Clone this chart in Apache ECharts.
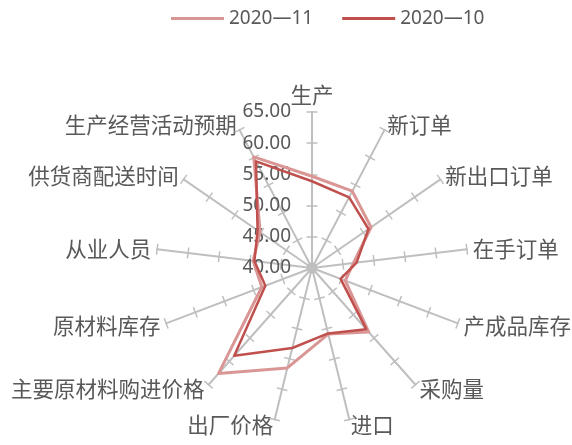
<!DOCTYPE html>
<html><head><meta charset="utf-8">
<script src="https://cdn.jsdelivr.net/npm/echarts@6/dist/echarts.min.js"></script>
<style>html,body{margin:0;padding:0;background:#fff}#c{width:572px;height:445px}</style>
</head><body><div id="c"></div>
<script>
const indicators = ['生产','新订单','新出口订单','在手订单','产成品库存','采购量','进口','出厂价格','主要原材料购进价格','原材料库存','从业人员','供货商配送时间','生产经营活动预期'];
const nov2020 = [54.7,53.9,51.5,46.7,45.7,53.7,50.9,56.5,62.6,48.6,49.5,50.1,60.1];
const oct2020 = [53.9,52.8,51.0,47.2,44.9,53.1,50.8,53.2,58.8,48.0,49.3,50.6,59.3];
const seriesNames = ['2020—11','2020—10'];
const axisMin = 40, axisMax = 65, axisStep = 5;
const tickLabels = ['40.00','45.00','50.00','55.00','60.00','65.00'];

// ECharts radar places indicators counter-clockwise; reorder so they run clockwise
const order = [0].concat(indicators.slice(1).map((_, i) => indicators.length - 1 - i));
const textColor = '#595959';
const axisColor = '#BFBFBF';

function radarBase(extra) {
  return Object.assign({
    center: [312, 268], radius: 156, startAngle: 90, shape: 'polygon', splitNumber: 5,
    indicator: order.map(i => ({ name: indicators[i], min: axisMin, max: axisMax })),
    splitLine: { show: false }, splitArea: { show: false },
    axisLine: { lineStyle: { color: axisColor, width: 2 } },
    axisTick: { show: true, length: 5.5, lineStyle: { color: axisColor, width: 1.5 } },
    axisLabel: { show: false },
    axisName: { color: textColor, fontSize: 21.5, fontFamily: 'Noto Sans CJK SC' },
    nameGap: 6
  }, extra);
}

const chart = echarts.init(document.getElementById('c'));
chart.setOption({
  animation: false,
  legend: {
    top: 4, left: 166, icon: 'rect', itemWidth: 53, itemHeight: 3, itemGap: 29,
    data: seriesNames,
    textStyle: { color: textColor, fontSize: 19, fontFamily: "'Liberation Sans Narrow', 'Noto Sans', sans-serif" }
  },
  radar: [
    radarBase({}),
    // second copy draws the tick halves on the other side of each axis
    radarBase({
      axisName: { show: false },
      axisLine: { show: false },
      axisTick: { show: true, length: -5.5, lineStyle: { color: axisColor, width: 1.5 } }
    })
  ],
  polar: { center: [312, 268], radius: 156 },
  angleAxis: { type: 'value', min: 0, max: 360, startAngle: 90, show: false },
  radiusAxis: {
    type: 'value', min: axisMin, max: axisMax, interval: axisStep,
    axisLine: { show: false }, axisTick: { show: false }, splitLine: { show: false },
    axisLabel: {
      margin: 21, color: textColor, fontSize: 19, fontFamily: "'Noto Sans', sans-serif",
      formatter: v => tickLabels[Math.round((v - axisMin) / axisStep)]
    }
  },
  series: [{
    type: 'radar', radarIndex: 0, symbol: 'none', z: 5,
    data: [
      { name: seriesNames[0], value: order.map(i => nov2020[i]),
        lineStyle: { color: '#DA9694', width: 3 }, itemStyle: { color: '#DA9694' } },
      { name: seriesNames[1], value: order.map(i => oct2020[i]),
        lineStyle: { color: '#C0504D', width: 2.5 }, itemStyle: { color: '#C0504D' } }
    ]
  }]
});
</script></body></html>
